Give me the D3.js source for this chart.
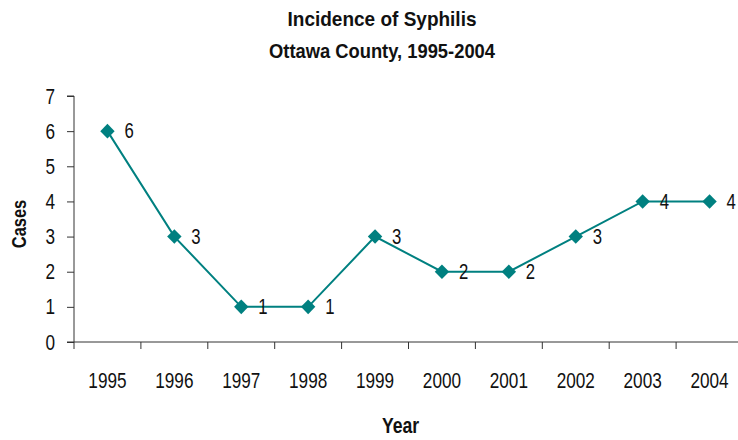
<!DOCTYPE html>
<html><head><meta charset="utf-8">
<script src="https://cdn.jsdelivr.net/npm/d3@7"></script>
<style>body{margin:0;background:#fff}svg{display:block}text{font-family:"Liberation Sans",Arial,sans-serif;fill:#111}</style>
</head><body><svg id="c" width="738" height="440"></svg>
<script>
const years = ["1995","1996","1997","1998","1999","2000","2001","2002","2003","2004"];
const cases = [6,3,1,1,3,2,2,3,4,4];
const yTicks = [0,1,2,3,4,5,6,7];
const titleLines = ["Incidence of Syphilis","Ottawa County, 1995-2004"];

const svg = d3.select("#c");
const mLeft = 74, mRight = 743, mTop = 96, mBottom = 342;
const x = d3.scaleBand().domain(years).range([mLeft, mRight]);
const y = d3.scaleLinear().domain([0,7]).range([mBottom, mTop]);
const teal = "#008080";
const titleWidths = [189, 226];
function narrow(sel, k){
  sel.each(function(){
    const w = this.getComputedTextLength();
    this.setAttribute("textLength", w*k);
    this.setAttribute("lengthAdjust","spacingAndGlyphs");
  });
}

const gy = svg.append("g").attr("transform",`translate(${mLeft},0)`)
  .call(d3.axisLeft(y).tickValues(yTicks).tickSize(7).tickPadding(12).tickFormat(d3.format("d")));
gy.select(".domain").attr("stroke","#333").attr("d",`M-7,${mTop}H0V${mBottom}`);
gy.selectAll(".tick line").attr("stroke","#333");
gy.selectAll("text").style("font-size","22px").attr("fill","#111").call(narrow, 0.78);

const gx = svg.append("g").attr("transform",`translate(0,${mBottom})`)
  .call(d3.axisBottom(x).tickSize(0).tickPadding(30));
gx.select(".domain").attr("stroke","#333").attr("d",`M${mLeft-7},0H${mRight}`);
gx.selectAll("text").style("font-size","22px").attr("fill","#111").call(narrow, 0.78);
svg.append("g").selectAll("line").data(d3.range(years.length+1)).join("line")
  .attr("x1",i=>mLeft+i*x.step()).attr("x2",i=>mLeft+i*x.step())
  .attr("y1",mBottom).attr("y2",mBottom+7).attr("stroke","#333");

const cx = d => x(d) + x.bandwidth()/2;
const line = d3.line().x((d,i)=>cx(years[i])).y(d=>y(d));
svg.append("path").datum(cases).attr("d",line).attr("fill","none").attr("stroke",teal).attr("stroke-width",2);

svg.append("g").selectAll("path").data(cases).join("path")
  .attr("transform",(d,i)=>`translate(${cx(years[i])},${y(d)})`)
  .attr("d","M0,-7.3L7.2,0L0,7.3L-7.2,0Z").attr("fill",teal);

svg.append("g").selectAll("text").data(cases).join("text")
  .attr("x",(d,i)=>cx(years[i])+17).attr("y",d=>y(d)).attr("dy","0.33em")
  .style("font-size","22px").text(d=>d).call(narrow, 0.76);

svg.selectAll(".title").data(titleLines).join("text").attr("class","title")
  .attr("x",382).attr("y",(d,i)=>26+i*31.5).attr("text-anchor","middle")
  .style("font-size","21px").style("font-weight","bold").text(d=>d)
  .attr("textLength",(d,i)=>titleWidths[i]).attr("lengthAdjust","spacingAndGlyphs");

svg.append("text").attr("x",400.5).attr("y",433).attr("text-anchor","middle")
  .style("font-size","22px").style("font-weight","bold").text("Year").call(narrow, 0.8);
svg.append("text").attr("transform","translate(26,224) rotate(-90)").attr("text-anchor","middle")
  .style("font-size","20px").style("font-weight","bold").text("Cases").call(narrow, 0.82);
</script></body></html>
